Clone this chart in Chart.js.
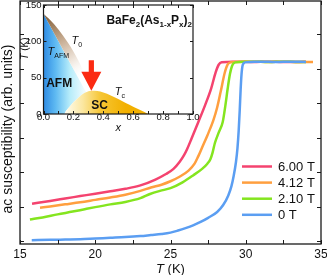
<!DOCTYPE html>
<html>
<head>
<meta charset="utf-8">
<script src="https://cdn.jsdelivr.net/npm/chart.js@4.4.1/dist/chart.umd.min.js"></script>
<style>
html, body { margin: 0; padding: 0; background: #fff; }
#wrap { position: relative; width: 327px; height: 275px; }
#main, #inset { position: absolute; left: 0; top: 0; }
</style>
</head>
<body>
<div id="wrap">
<canvas id="main" width="327" height="275"></canvas>
<canvas id="inset" width="200" height="133"></canvas>
</div>
<script>
// ---- main panel: ac susceptibility vs T ----
const fieldLabels = ['6.00 T', '4.12 T', '2.10 T', '0 T'];

const temp600 = [15.8, 17, 18, 19, 20, 21, 22, 23, 24, 24.7, 25.2, 25.6, 25.9, 26.1, 26.4, 26.85, 27.3, 27.7, 28.0, 28.2, 28.4, 28.8, 29.5, 30.5, 31.5, 32.5, 33.5, 34.0];
const chi600  = [1.09, 1.17, 1.24, 1.31, 1.38, 1.45, 1.52, 1.62, 1.79, 1.95, 2.10, 2.30, 2.50, 2.67, 2.98, 3.46, 3.95, 4.43, 4.90, 5.12, 5.19, 5.20, 5.21, 5.20, 5.21, 5.20, 5.20, 5.21];

const temp412 = [16.33, 17, 18, 19, 20, 21, 22, 23, 23.7, 24.4, 25, 25.6, 26.2, 26.6, 26.85, 27.1, 27.45, 27.84, 28.1, 28.34, 28.6, 28.8, 29.0, 29.4, 30.5, 31.5, 32.5, 33.5, 34.47];
const chi412  = [0.97, 1.01, 1.07, 1.13, 1.20, 1.27, 1.35, 1.46, 1.56, 1.64, 1.74, 1.87, 2.05, 2.25, 2.47, 2.72, 3.07, 3.50, 3.88, 4.35, 4.88, 5.13, 5.19, 5.20, 5.21, 5.20, 5.21, 5.20, 5.20];

const temp210 = [15.66, 16.5, 17.5, 18.5, 19.3, 20, 21, 22, 23, 23.64, 24.3, 25, 25.8, 26.5, 27.1, 27.45, 27.65, 27.8, 27.95, 28.2, 28.47, 28.65, 28.8, 28.95, 29.1, 29.3, 29.6, 30.5, 31.5, 32.5, 33.5, 34.0];
const chi210  = [0.63, 0.69, 0.78, 0.86, 0.93, 0.99, 1.07, 1.14, 1.25, 1.37, 1.46, 1.54, 1.71, 1.91, 2.10, 2.25, 2.38, 2.58, 2.85, 3.15, 3.46, 3.95, 4.43, 4.85, 5.10, 5.19, 5.20, 5.21, 5.20, 5.21, 5.20, 5.20];

const temp000 = [15.78, 17, 18, 19, 20, 21, 22, 23, 23.7, 24.4, 25, 25.5, 26, 26.5, 27, 27.5, 28.1, 28.5, 28.84, 29.05, 29.2, 29.35, 29.45, 29.53, 29.6, 29.66, 29.72, 29.8, 29.95, 30.3, 31, 32, 33, 34.0];
const chi000  = [0.03, 0.04, 0.05, 0.06, 0.08, 0.10, 0.12, 0.15, 0.18, 0.21, 0.25, 0.31, 0.38, 0.46, 0.56, 0.68, 0.85, 1.05, 1.33, 1.60, 1.90, 2.30, 2.70, 3.20, 3.80, 4.40, 4.85, 5.12, 5.19, 5.20, 5.21, 5.20, 5.21, 5.20];

const tTickLabels = [15, 20, 25, 30, 35];

// ---- inset: phase diagram of BaFe2(As1-xPx)2 ----
const domeX  = [0.14, 0.15, 0.17, 0.2, 0.22, 0.25, 0.28, 0.32, 0.36, 0.4, 0.45, 0.5, 0.55, 0.6, 0.65, 0.7];
const domeTc = [0, 4, 9, 16, 20, 25.5, 29.5, 32, 31.5, 29.5, 25.5, 20.5, 15, 10, 5, 0];
const afmX = [0, 0.1, 0.2, 0.285];
const afmT = [138, 100, 62, 30];
const t0X = [0, 0.07, 0.13, 0.2, 0.264, 0.3];
const t0T = [138, 124, 108, 86, 60, 40];
const xTickLabels = ['0.0', '0.2', '0.4', '0.6', '0.8', '1.0'];
const tKTickLabels = [0, 50, 100, 150];

const FONT = "'Liberation Sans', Arial, Helvetica, sans-serif";
const NARROW = "'Liberation Sans Narrow', 'Liberation Sans', Arial, sans-serif";
const lineColors = ['#f4436f', '#ff9f3f', '#84e51f', '#5b9ef2'];

function pts(xs, ys) { return xs.map((v, i) => ({ x: v, y: ys[i] })); }

function richText(ctx, parts, x, y, align) {
  let w = 0;
  parts.forEach(p => { ctx.font = p.font; p.w = ctx.measureText(p.text).width; w += p.w; });
  let cx = align === 'right' ? x - w : align === 'center' ? x - w / 2 : x;
  ctx.textAlign = 'left';
  ctx.textBaseline = 'alphabetic';
  parts.forEach(p => { ctx.font = p.font; ctx.fillText(p.text, cx, y + (p.dy || 0)); cx += p.w; });
}

// inward ticks + closed frame
const frameTicks = {
  id: 'frameTicks',
  afterDatasetsDraw(chart, args, opts) {
    const { ctx, chartArea: a, scales: { x, y } } = chart;
    ctx.save();
    ctx.strokeStyle = '#1a1a1a';
    ctx.lineWidth = 1;
    ctx.beginPath();
    x.ticks.forEach(t => {
      const px = Math.round(x.getPixelForValue(t.value)) + 0.5;
      ctx.moveTo(px, a.bottom); ctx.lineTo(px, a.bottom - opts.len);
      ctx.moveTo(px, a.top); ctx.lineTo(px, a.top + opts.len);
    });
    y.ticks.forEach(t => {
      const py = Math.round(y.getPixelForValue(t.value)) + 0.5;
      ctx.moveTo(a.left, py); ctx.lineTo(a.left + opts.len, py);
      ctx.moveTo(a.right, py); ctx.lineTo(a.right - opts.len, py);
    });
    ctx.stroke();
    ctx.lineWidth = opts.frame;
    ctx.strokeRect(a.left, a.top, a.right - a.left, a.bottom - a.top);
    ctx.restore();
  }
};

const mainDecor = {
  id: 'mainDecor',
  afterDraw(chart) {
    const { ctx, chartArea: a } = chart;
    ctx.save();
    ctx.fillStyle = '#111';
    // legend
    fieldLabels.forEach((lab, i) => {
      const ly = 166.5 + i * 16.1;
      ctx.strokeStyle = lineColors[i];
      ctx.lineWidth = 2.5;
      ctx.beginPath(); ctx.moveTo(a.right - 79, ly); ctx.lineTo(a.right - 49, ly); ctx.stroke();
      ctx.font = '13px ' + FONT;
      ctx.textAlign = 'left'; ctx.textBaseline = 'middle';
      ctx.fillText(lab, a.right - 43, ly + 0.5);
    });
    // axis titles
    richText(ctx, [{ text: 'T', font: 'italic 13px ' + FONT }, { text: ' (K)', font: '13px ' + FONT }],
      (a.left + a.right) / 2, 272.5, 'center');
    ctx.translate(8.5, 129);
    ctx.rotate(-Math.PI / 2);
    ctx.font = '14px ' + FONT;
    ctx.textAlign = 'center'; ctx.textBaseline = 'middle';
    ctx.fillText('ac susceptibility (arb. units)', 0, 0);
    ctx.restore();
  }
};

const series = [[temp600, chi600], [temp412, chi412], [temp210, chi210], [temp000, chi000]];

new Chart(document.getElementById('main'), {
  type: 'line',
  data: {
    datasets: series.map(([t, c], i) => ({
      label: fieldLabels[i],
      data: pts(t, c),
      borderColor: lineColors[i],
      borderWidth: 2.5,
      pointRadius: 0,
      cubicInterpolationMode: 'monotone',
      fill: false,
      order: 3 - i
    }))
  },
  options: {
    responsive: false,
    animation: false,
    layout: { padding: { left: 0, right: 6, top: 1, bottom: 0 } },
    plugins: { legend: { display: false }, tooltip: { enabled: false }, frameTicks: { len: 4, frame: 1.3 } },
    scales: {
      x: {
        type: 'linear', min: 15, max: 35,
        grid: { display: false, drawTicks: false },
        border: { display: false },
        ticks: {
          stepSize: 2.5, autoSkip: false, maxRotation: 0, padding: 5, color: '#111',
          font: { family: FONT, size: 12, lineHeight: 1 },
          callback: v => tTickLabels.includes(v) ? String(v) : ''
        },
        afterFit(s) { s.height = 31; s.paddingLeft = 0; s.paddingRight = 0; }
      },
      y: {
        type: 'linear', min: -0.08, max: 6.97,
        grid: { display: false, drawTicks: false },
        border: { display: false },
        ticks: { display: false, stepSize: 1, includeBounds: false },
        afterFit(s) { s.width = 20; s.paddingTop = 0; s.paddingBottom = 0; }
      }
    }
  },
  plugins: [frameTicks, mainDecor]
});

// ---- inset ----
function gradient(chart, p0, p1, stops, fallback) {
  const { ctx, chartArea, scales } = chart;
  if (!chartArea || !scales.x) return fallback;
  const g = ctx.createLinearGradient(
    scales.x.getPixelForValue(p0[0]), scales.y.getPixelForValue(p0[1]),
    scales.x.getPixelForValue(p1[0]), scales.y.getPixelForValue(p1[1]));
  stops.forEach(([o, c]) => g.addColorStop(o, c));
  return g;
}

const floorX = [0].concat(domeX.filter(v => v < 0.285), [0.285]);
const floorT = [0].concat(domeTc.filter((v, i) => domeX[i] < 0.285), [30]);

const insetNotes = {
  id: 'insetNotes',
  afterDatasetsDraw(chart) {
    const { ctx, scales: { x, y } } = chart;
    ctx.save();
    // red arrow pointing at optimal doping
    const ax = x.getPixelForValue(0.32);
    const tip = y.getPixelForValue(32), base = y.getPixelForValue(58), tail = y.getPixelForValue(74);
    ctx.fillStyle = '#fb2a12';
    ctx.beginPath();
    ctx.moveTo(ax - 2.6, tail); ctx.lineTo(ax + 2.6, tail); ctx.lineTo(ax + 2.6, base);
    ctx.lineTo(ax + 10, base); ctx.lineTo(ax, tip); ctx.lineTo(ax - 10, base);
    ctx.lineTo(ax - 2.6, base); ctx.closePath(); ctx.fill();

    ctx.fillStyle = '#111';
    const P = (vx, vy) => [x.getPixelForValue(vx), y.getPixelForValue(vy)];
    const bold = 'bold 12px ' + FONT, sub = 'bold 8px ' + FONT;
    let [px, py] = P(1, 124);
    richText(ctx, [
      { text: 'BaFe', font: bold }, { text: '2', font: sub, dy: 3 },
      { text: '(As', font: bold }, { text: '1-x', font: sub, dy: 3 },
      { text: 'P', font: bold }, { text: 'x', font: sub, dy: 3 },
      { text: ')', font: bold }, { text: '2', font: sub, dy: 3 }
    ], px - 1, py, 'right');
    const it = 'italic 11px ' + FONT, sm = '7px ' + FONT;
    [px, py] = P(0.027, 81);
    richText(ctx, [{ text: 'T', font: it }, { text: 'AFM', font: sm, dy: 3 }], px, py, 'left');
    [px, py] = P(0.188, 97);
    richText(ctx, [{ text: 'T', font: it }, { text: '0', font: sm, dy: 3 }], px, py, 'left');
    [px, py] = P(0.477, 26);
    richText(ctx, [{ text: 'T', font: it }, { text: 'c', font: sm, dy: 3 }], px, py, 'left');
    [px, py] = P(0.018, 37);
    richText(ctx, [{ text: 'AFM', font: bold }], px, py, 'left');
    [px, py] = P(0.32, 6.5);
    richText(ctx, [{ text: 'SC', font: bold }], px, py, 'left');

    // axis titles
    const a = chart.chartArea;
    richText(ctx, [{ text: 'x', font: 'italic 11px ' + FONT }], (a.left + a.right) / 2, 131, 'center');
    ctx.translate(24, y.getPixelForValue(90));
    ctx.rotate(-Math.PI / 2);
    richText(ctx, [{ text: 'T', font: 'italic 10px ' + FONT }, { text: ' (K)', font: '10px ' + FONT }], 0, 3.5, 'center');
    ctx.restore();
  }
};

new Chart(document.getElementById('inset'), {
  type: 'line',
  data: {
    datasets: [
      { // superconducting dome
        data: pts(domeX, domeTc), fill: 'origin', borderWidth: 0, pointRadius: 0,
        cubicInterpolationMode: 'monotone', order: 1,
        backgroundColor: c => gradient(c.chart, [0.14, 0], [0.55, 0],
          [[0, '#fffdf2'], [0.3, '#fbe7a0'], [0.6, '#f6c532'], [1, '#f2b000']], '#f6c532')
      },
      { // T_AFM line, blue AFM region below it
        data: pts(afmX, afmT), fill: 2, borderWidth: 0, pointRadius: 0, order: 3,
        backgroundColor: c => gradient(c.chart, [0, 0], [0.27, 0],
          [[0, '#2f8be3'], [0.3, '#5fbaf2'], [0.65, '#b6ecfa'], [1, '#eefbfe']], '#5fbaf2')
      },
      { // lower edge of the AFM region
        data: pts(floorX, floorT), fill: false, borderWidth: 0, pointRadius: 0, order: 4
      },
      { // T0 line, brown wedge down to T_AFM
        data: pts(t0X, t0T), fill: 1, borderWidth: 0, pointRadius: 0,
        cubicInterpolationMode: 'monotone', order: 2,
        backgroundColor: c => gradient(c.chart, [0.02, 132], [0.26, 50],
          [[0, '#8a6640'], [0.35, '#c2a68a'], [0.7, '#eee4da'], [1, 'rgba(255,255,255,0)']], '#c2a68a')
      }
    ]
  },
  options: {
    responsive: false,
    animation: false,
    layout: { padding: { left: 0, right: 7, top: 5, bottom: 0 } },
    plugins: { legend: { display: false }, tooltip: { enabled: false }, frameTicks: { len: 3, frame: 1.2 } },
    scales: {
      x: {
        type: 'linear', min: 0, max: 1,
        grid: { display: false, drawTicks: false },
        border: { display: false },
        ticks: {
          stepSize: 0.1, autoSkip: false, maxRotation: 0, padding: 0, color: '#111',
          font: { family: NARROW, size: 9.5, lineHeight: 0.8 },
          callback: v => { const s = v.toFixed(1); return xTickLabels.includes(s) ? s : ''; }
        },
        afterFit(s) { s.height = 19; s.paddingLeft = 0; s.paddingRight = 0; }
      },
      y: {
        type: 'linear', min: 0, max: 150,
        grid: { display: false, drawTicks: false },
        border: { display: false },
        ticks: {
          stepSize: 50, padding: 2, color: '#111',
          font: { family: NARROW, size: 9.5, lineHeight: 1 },
          callback: v => tKTickLabels.includes(v) ? String(v) : ''
        },
        afterFit(s) { s.width = 43.5; s.paddingTop = 0; s.paddingBottom = 0; }
      }
    }
  },
  plugins: [frameTicks, insetNotes]
});
</script>
</body>
</html>
